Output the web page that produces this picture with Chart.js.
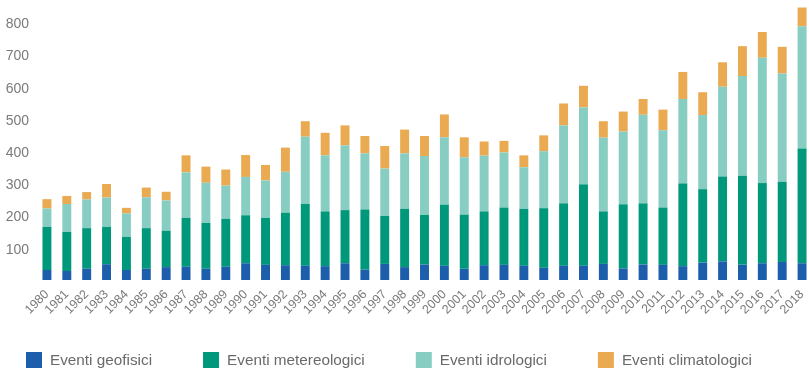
<!DOCTYPE html>
<html>
<head>
<meta charset="utf-8">
<script src="https://cdn.jsdelivr.net/npm/chart.js@4/dist/chart.umd.min.js"></script>
<style>
  html, body { margin: 0; padding: 0; background: #ffffff; overflow: hidden; }
  #wrap { position: relative; width: 812px; height: 369px; }
</style>
</head>
<body>
<div id="wrap"><canvas id="chart"></canvas></div>
<script>
// Years on the category axis
const years = [
  '1980','1981','1982','1983','1984','1985','1986','1987','1988','1989',
  '1990','1991','1992','1993','1994','1995','1996','1997','1998','1999',
  '2000','2001','2002','2003','2004','2005','2006','2007','2008','2009',
  '2010','2011','2012','2013','2014','2015','2016','2017','2018'
];

// Number of events per year, by type (stacked)
const geofisici = [
  31, 28, 35, 49, 31, 35, 40, 41, 35, 41,
  52, 47, 46, 44, 43, 52, 32, 50, 40, 48,
  44, 35, 46, 47, 44, 38, 44, 44, 50, 36,
  48, 47, 43, 54, 58, 47, 52, 56, 52
];
const metereologici = [
  134, 121, 126, 116, 103, 126, 113, 152, 142, 149,
  149, 146, 163, 192, 170, 165, 187, 149, 181, 154,
  190, 168, 167, 178, 177, 185, 194, 253, 163, 199,
  190, 178, 257, 228, 263, 277, 249, 249, 356
];
const idrologici = [
  57, 87, 89, 91, 73, 96, 94, 141, 125, 103,
  119, 116, 127, 209, 174, 201, 174, 147, 172, 183,
  209, 178, 173, 171, 129, 177, 242, 239, 229, 226,
  275, 240, 262, 230, 279, 309, 389, 336, 380
];
const climatologici = [
  29, 25, 23, 42, 17, 30, 27, 53, 50, 50,
  68, 48, 75, 48, 70, 62, 54, 70, 74, 62,
  71, 62, 44, 36, 37, 49, 68, 67, 51, 62,
  49, 64, 84, 71, 76, 93, 80, 83, 58
];

// Value-axis labels shown on the left
const yTickValues = [100, 200, 300, 400, 500, 600, 700, 800];

const seriesLabels = ['Eventi geofisici', 'Eventi metereologici', 'Eventi idrologici', 'Eventi climatologici'];
const seriesColors = ['#1c5eab', '#00987b', '#88cdc1', '#e9aa52'];

const tickColor = '#7a7a7a';
const fontFamily = '"Liberation Sans", Arial, Helvetica, sans-serif';

// Legend drawn as a single row of square swatches under the axis
const bottomLegend = {
  id: 'bottomLegend',
  afterDraw(chart) {
    const ctx = chart.ctx;
    const box = 16, textGap = 8, itemGap = 51;
    const top = 352;
    let x = 26;
    ctx.save();
    ctx.font = '15.3px ' + fontFamily;
    ctx.textBaseline = 'middle';
    ctx.textAlign = 'left';
    chart.data.datasets.forEach(ds => {
      ctx.fillStyle = ds.backgroundColor;
      ctx.fillRect(x, top, box, box);
      ctx.fillStyle = '#6a6a6a';
      const tx = x + box + textGap;
      ctx.fillText(ds.label, tx, top + box / 2 + 1);
      x = tx + ctx.measureText(ds.label).width + itemGap;
    });
    ctx.restore();
  }
};

const datasets = [geofisici, metereologici, idrologici, climatologici].map((values, i) => ({
  label: seriesLabels[i],
  data: values,
  backgroundColor: seriesColors[i],
  borderWidth: 0,
  barPercentage: 0.45,
  categoryPercentage: 1.0
}));

new Chart(document.getElementById('chart'), {
  type: 'bar',
  data: { labels: years, datasets },
  options: {
    responsive: true,
    maintainAspectRatio: false,
    animation: false,
    layout: { padding: { top: 3, right: 0, bottom: 39, left: 0 } },
    plugins: {
      legend: { display: false },
      tooltip: { enabled: false }
    },
    scales: {
      x: {
        stacked: true,
        grid: { display: false, drawTicks: false },
        border: { display: false },
        ticks: {
          color: tickColor,
          font: { family: fontFamily, size: 12.5 },
          minRotation: 45,
          maxRotation: 45,
          autoSkip: false,
          padding: 7
        },
        afterFit(scale) {
          scale.height = 50;
          scale.paddingLeft = 0;
          scale.paddingRight = 0;
        }
      },
      y: {
        stacked: true,
        min: 0,
        max: 860,
        grid: { display: false, drawTicks: false },
        border: { display: false },
        ticks: {
          color: tickColor,
          font: { family: fontFamily, size: 14 },
          padding: 8,
          labelOffset: 2
        },
        afterBuildTicks(scale) {
          scale.ticks = yTickValues.map(v => ({ value: v }));
        },
        afterFit(scale) {
          scale.width = 37;
          scale.paddingTop = 0;
          scale.paddingBottom = 0;
        }
      }
    }
  },
  plugins: [bottomLegend]
});
</script>
</body>
</html>
